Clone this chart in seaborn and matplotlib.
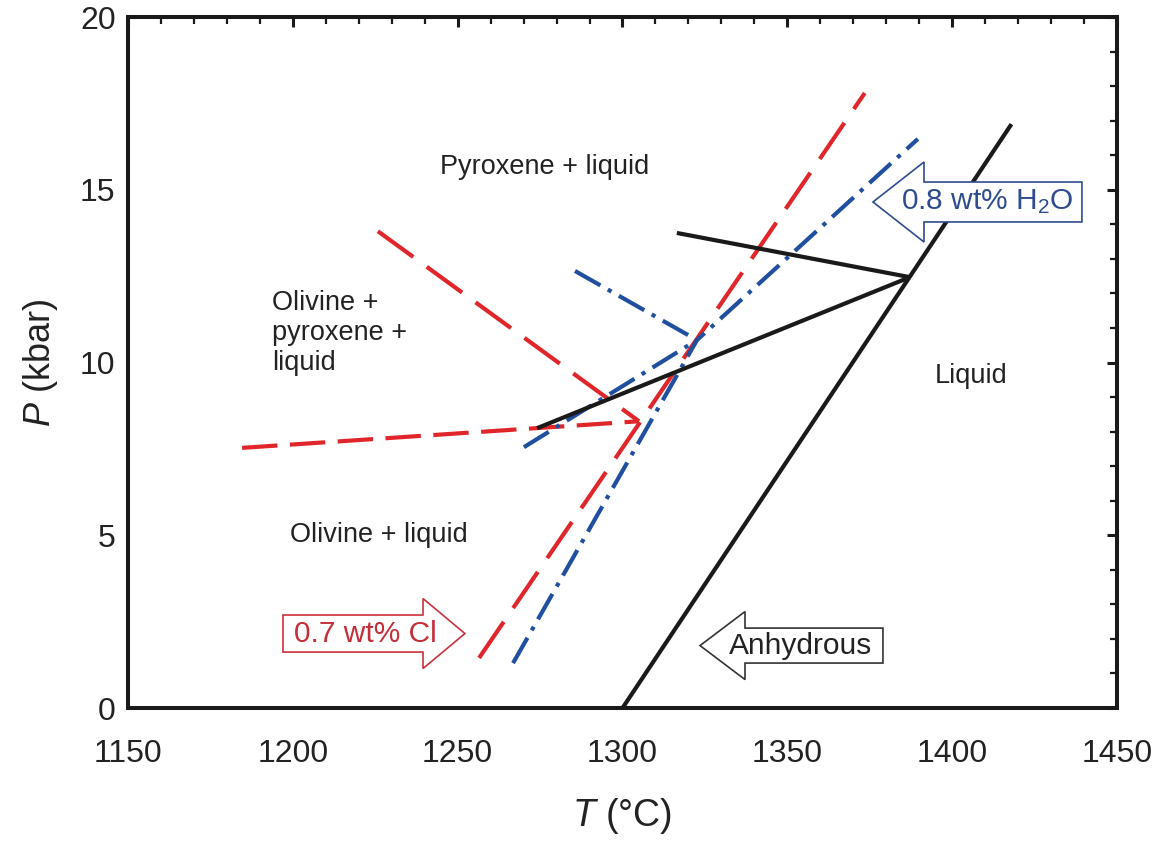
import matplotlib
matplotlib.use("Agg")
import matplotlib.pyplot as plt
import seaborn as sns
import pandas as pd
from matplotlib.patches import Polygon
from matplotlib.ticker import MultipleLocator

# ---- phase boundaries: temperature (°C) and pressure (kbar) ----
# anhydrous melt
anh_liquidus_T = [1300.0, 1418.0]
anh_liquidus_P = [0.0, 16.9]
anh_px_upper_T = [1316.5, 1387.2]
anh_px_upper_P = [13.75, 12.47]
anh_px_lower_T = [1274.1, 1387.2]
anh_px_lower_P = [8.10, 12.47]

# 0.7 wt% Cl
cl_liquidus_T = [1256.5, 1373.5]
cl_liquidus_P = [1.45, 17.8]
cl_olpx_T = [1225.8, 1305.0]
cl_olpx_P = [13.8, 8.3]
cl_ol_T = [1184.6, 1305.0]
cl_ol_P = [7.53, 8.3]

# 0.8 wt% H2O
h2o_liquidus_T = [1266.8, 1322.6, 1389.6]
h2o_liquidus_P = [1.3, 10.65, 16.47]
h2o_olpx_T = [1285.6, 1322.6]
h2o_olpx_P = [12.65, 10.65]
h2o_ol_T = [1270.1, 1322.6]
h2o_ol_P = [7.55, 10.65]

RED = "#e0262b"
BLUE = "#1f4f9e"
BLACK = "#1a1a1a"

sns.set_theme(style="white")
plt.rcParams["font.family"] = ["Liberation Sans", "DejaVu Sans"]
plt.rcParams["mathtext.fontset"] = "custom"
plt.rcParams["mathtext.rm"] = "Liberation Sans"
plt.rcParams["mathtext.it"] = "Liberation Sans:italic"
plt.rcParams["text.color"] = "#222222"

fig = plt.figure(figsize=(11.67, 8.42), dpi=100)
ax = fig.add_axes([0.1097, 0.1591, 0.8474, 0.8207])

LW = 3.0
red_long = (10.5, 4.0)
red_short = (8.5, 3.0)
blue_dashdot = (7.0, 2.05, 1.0, 2.05)


def boundary(T, P, color, dashes=None):
    df = pd.DataFrame({"T": T, "P": P})
    sns.lineplot(data=df, x="T", y="P", sort=False, estimator=None,
                 color=color, lw=LW, ax=ax, zorder=3)
    line = ax.lines[-1]
    if dashes is not None:
        line.set_dashes(dashes)
        line.set_dash_capstyle("butt")
    else:
        line.set_solid_capstyle("butt")


boundary(cl_ol_T, cl_ol_P, RED, red_short)
boundary(cl_olpx_T, cl_olpx_P, RED, red_long)
boundary(cl_liquidus_T, cl_liquidus_P, RED, red_long)
boundary(h2o_olpx_T, h2o_olpx_P, BLUE, blue_dashdot)
boundary(h2o_ol_T, h2o_ol_P, BLUE, blue_dashdot)
boundary(h2o_liquidus_T, h2o_liquidus_P, BLUE, blue_dashdot)
boundary(anh_px_upper_T, anh_px_upper_P, BLACK)
boundary(anh_px_lower_T, anh_px_lower_P, BLACK)
boundary(anh_liquidus_T, anh_liquidus_P, BLACK)

# ---- axes ----
ax.set_xlim(1150, 1450)
ax.set_ylim(0, 20)
ax.xaxis.set_major_locator(MultipleLocator(50))
ax.xaxis.set_minor_locator(MultipleLocator(10))
ax.yaxis.set_major_locator(MultipleLocator(5))
ax.yaxis.set_minor_locator(MultipleLocator(1))
ax.tick_params(which="both", direction="in", top=True, right=True,
               colors=BLACK, labelcolor="#222222")
ax.tick_params(which="major", length=7.5, width=2.2, labelsize=23)
ax.tick_params(axis="x", which="major", pad=22)
ax.tick_params(axis="y", which="major", pad=9)
ax.tick_params(which="minor", length=5, width=1.6)
for s in ax.spines.values():
    s.set_visible(True)
    s.set_linewidth(2.9)
    s.set_color(BLACK)

ax.set_xlabel(r"$T$ (°C)", fontsize=27, labelpad=20, color="#222222")
ax.set_ylabel(r"$P$ (kbar)", fontsize=26, labelpad=14, color="#222222")

# ---- field labels ----
fs = 19.5
ax.text(1276.5, 15.66, "Pyroxene + liquid", ha="center", va="center", fontsize=fs)
ax.text(1193.7, 10.84, "Olivine +\npyroxene +\nliquid", ha="left", va="center",
        fontsize=fs, linespacing=1.2)
ax.text(1199.0, 5.0, "Olivine + liquid", ha="left", va="center", fontsize=fs)
ax.text(1394.8, 9.61, "Liquid", ha="left", va="center", fontsize=fs)


# ---- boxed arrow labels (axes-fraction coordinates) ----
def arrow_label(text, tail, base, tip, yc, half_box, half_head, edge, tcolor, tx):
    pts = [(tail, yc - half_box), (base, yc - half_box), (base, yc - half_head),
           (tip, yc), (base, yc + half_head), (base, yc + half_box),
           (tail, yc + half_box)]
    ax.add_patch(Polygon(pts, closed=True, transform=ax.transAxes,
                         facecolor="white", edgecolor=edge, lw=1.2, zorder=5))
    ax.text(tx, yc, text, transform=ax.transAxes, ha="center", va="center",
            color=tcolor, fontsize=21.5, zorder=6)


arrow_label("0.7 wt% Cl", 0.1567, 0.2983, 0.3407, 0.1078, 0.0268, 0.0506,
            "#c8323c", "#c42e38", 0.2396)
arrow_label("Anhydrous", 0.7634, 0.6239, 0.5784, 0.0904, 0.0253, 0.0492,
            "#333333", "#222222", 0.6805)
arrow_label("0.8 wt% H$_2$O", 0.9646, 0.8049, 0.7533, 0.7323, 0.0289, 0.0579,
            "#2e4c8f", "#2e4c8f", 0.869)

fig.savefig("out.png", dpi=100)
